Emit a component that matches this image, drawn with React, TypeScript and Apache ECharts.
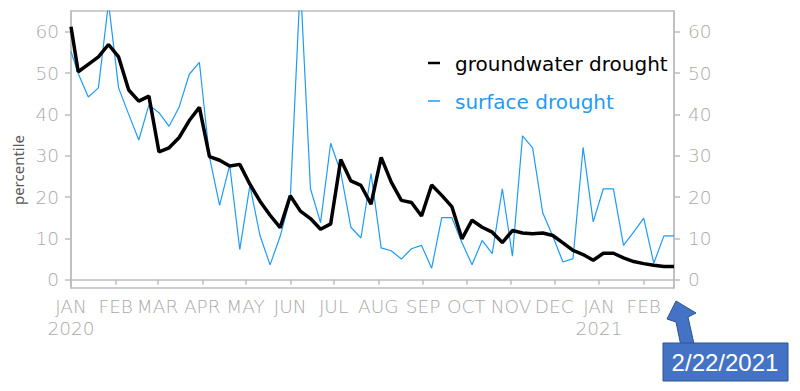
import React, { useEffect, useRef } from "react";
import * as echarts from "echarts";

// weekly observation dates (x positions)
const weekDates = [
  "2020-01-01", "2020-01-06", "2020-01-13", "2020-01-20", "2020-01-27",
  "2020-02-03", "2020-02-10", "2020-02-17", "2020-02-24",
  "2020-03-02", "2020-03-09", "2020-03-16", "2020-03-23", "2020-03-30",
  "2020-04-06", "2020-04-13", "2020-04-20", "2020-04-27",
  "2020-05-04", "2020-05-11", "2020-05-18", "2020-05-25",
  "2020-06-01", "2020-06-08", "2020-06-15", "2020-06-22", "2020-06-29",
  "2020-07-06", "2020-07-13", "2020-07-20", "2020-07-27",
  "2020-08-03", "2020-08-10", "2020-08-17", "2020-08-24", "2020-08-31",
  "2020-09-07", "2020-09-14", "2020-09-21", "2020-09-28",
  "2020-10-05", "2020-10-12", "2020-10-19", "2020-10-26",
  "2020-11-02", "2020-11-09", "2020-11-16", "2020-11-23", "2020-11-30",
  "2020-12-07", "2020-12-14", "2020-12-21", "2020-12-28",
  "2021-01-04", "2021-01-11", "2021-01-18", "2021-01-25",
  "2021-02-01", "2021-02-08", "2021-02-15", "2021-02-22",
];

const groundwater = [
  61.2, 50.3, 52.1, 53.9, 56.9, 53.9, 45.9, 43.2, 44.4, 30.9,
  31.9, 34.4, 38.5, 41.7, 29.8, 28.9, 27.5, 27.9, 23.1, 19.0,
  15.6, 12.6, 20.3, 16.6, 14.8, 12.2, 13.5, 29.1, 23.9, 22.8,
  18.3, 29.6, 23.6, 19.2, 18.7, 15.4, 22.9, 20.4, 17.7, 9.9,
  14.4, 12.7, 11.5, 9.0, 11.9, 11.3, 11.1, 11.3, 10.7, 8.9,
  7.1, 6.1, 4.7, 6.4, 6.4, 5.3, 4.4, 3.9, 3.5, 3.2, 3.2,
];

const surface = [
  55.2, 49.9, 44.2, 46.4, 67, 46.4, 40, 33.8, 42.3, 40.4,
  37.1, 41.8, 49.7, 52.6, 29.7, 18, 27.7, 7.3, 22.8, 10.7,
  3.6, 10.5, 19.6, 72, 22, 13.8, 33, 26, 12.7, 10.1,
  25.7, 7.7, 7, 5, 7.5, 8.3, 2.8, 15, 15, 9,
  3.6, 9.5, 6.3, 22, 5.7, 34.8, 31.9, 16.2, 10.5, 4.3,
  5.1, 32, 14, 22, 22, 8.3, 11.5, 14.9, 4, 10.6, 10.6,
];

const monthStarts = [
  "2020-01-01", "2020-02-01", "2020-03-01", "2020-04-01", "2020-05-01",
  "2020-06-01", "2020-07-01", "2020-08-01", "2020-09-01", "2020-10-01",
  "2020-11-01", "2020-12-01", "2021-01-01", "2021-02-01",
];
const monthLabels = [
  "JAN\n2020", "FEB", "MAR", "APR", "MAY", "JUN", "JUL", "AUG", "SEP",
  "OCT", "NOV", "DEC", "JAN\n2021", "FEB",
];
const yTicks = [0, 10, 20, 30, 40, 50, 60];
const axisStart = "2020-01-01";
const axisEnd = "2021-02-22";
const seriesNames = ["groundwater drought", "surface drought"];
const annotation = "2/22/2021";

const dayOf = (s: string) => {
  const [y, m, d] = s.split("-").map(Number);
  const [y0, m0, d0] = axisStart.split("-").map(Number);
  return Math.round((Date.UTC(y, m - 1, d) - Date.UTC(y0, m0 - 1, d0)) / 86400000);
};

const GREY = "#a9a9a9";
const AXIS = "#bdbdbd";
const BLUE = "#1e9bf5";
const LABEL_FONT = "'DejaVu Sans', sans-serif";

export default function App() {
  const ref = useRef<HTMLDivElement>(null);
  useEffect(() => {
    if (!ref.current) return;
    const chart = echarts.init(ref.current, null, { renderer: "svg" });
    const monthDays = monthStarts.map(dayOf);
    const gwData = weekDates.map((d, i) => [dayOf(d), groundwater[i]]);
    const sfData = weekDates.map((d, i) => [dayOf(d), surface[i]]);

    const yAxisBase = (pos: "left" | "right", margin: number) => ({
      type: "value",
      position: pos,
      min: -2,
      max: 65,
      splitLine: { show: false },
      axisLine: { show: true, lineStyle: { color: AXIS, width: 1.5 } },
      axisTick: { show: true, customValues: yTicks, length: 6, lineStyle: { color: AXIS, width: 1.5 } },
      axisLabel: {
        customValues: yTicks,
        color: GREY,
        fontSize: 18.5,
        fontFamily: LABEL_FONT,
        fontWeight: 200,
        margin,
      },
    });

    chart.setOption({
      animation: false,
      backgroundColor: "#ffffff",
      grid: {
        left: 71,
        right: 126,
        top: 11,
        bottom: 103,
        show: true,
        borderColor: AXIS,
        borderWidth: 1.5,
      },
      xAxis: {
        type: "value",
        min: 0,
        max: dayOf(axisEnd),
        splitLine: { show: false },
        axisLine: { show: true, lineStyle: { color: AXIS, width: 1.5 } },
        axisTick: { show: true, customValues: monthDays, length: 5, lineStyle: { color: AXIS, width: 1.5 } },
        axisLabel: {
          customValues: monthDays,
          showMinLabel: true,
          showMaxLabel: true,
          color: GREY,
          fontSize: 18.5,
          fontFamily: LABEL_FONT,
          fontWeight: 200,
          lineHeight: 22,
          margin: 7,
          formatter: (v: number) => {
            const i = monthDays.indexOf(Math.round(v));
            return i >= 0 ? monthLabels[i] : "";
          },
        },
      },
      yAxis: [yAxisBase("left", 12), yAxisBase("right", 14)],
      series: [
        {
          name: seriesNames[1],
          type: "line",
          data: sfData,
          showSymbol: false,
          symbol: "none",
          lineStyle: { color: BLUE, width: 1.2 },
          itemStyle: { color: BLUE },
          z: 2,
        },
        {
          name: seriesNames[0],
          type: "line",
          data: gwData,
          showSymbol: false,
          symbol: "none",
          lineStyle: { color: "#000000", width: 3.5 },
          itemStyle: { color: "#000000" },
          z: 3,
        },
      ],
      graphic: [
        {
          type: "text",
          x: 18,
          y: 170,
          rotation: Math.PI / 2,
          style: {
            text: "percentile",
            fill: "#595959",
            fontSize: 15,
            fontFamily: "'Noto Sans', sans-serif",
            align: "center",
            verticalAlign: "middle",
          },
        },
        {
          type: "line",
          shape: { x1: 428, y1: 63, x2: 440, y2: 63 },
          style: { stroke: "#000", lineWidth: 2.5 },
        },
        {
          type: "text",
          x: 455,
          y: 64,
          style: {
            text: seriesNames[0],
            fill: "#000",
            fontSize: 20,
            fontFamily: LABEL_FONT,
            verticalAlign: "middle",
          },
        },
        {
          type: "line",
          shape: { x1: 428, y1: 101, x2: 440, y2: 101 },
          style: { stroke: BLUE, lineWidth: 1.5 },
        },
        {
          type: "text",
          x: 455,
          y: 102,
          style: {
            text: seriesNames[1],
            fill: BLUE,
            fontSize: 20,
            fontFamily: LABEL_FONT,
            verticalAlign: "middle",
          },
        },
        {
          type: "polygon",
          shape: {
            points: [
              [676, 301], [696, 313], [688, 317], [694, 344],
              [681, 346], [676, 322], [667, 319],
            ],
          },
          style: { fill: "#4472c4", stroke: "#2f528f", lineWidth: 1 },
        },
        {
          type: "rect",
          shape: { x: 663, y: 343, width: 125, height: 38 },
          style: { fill: "#4472c4", stroke: "#2f528f", lineWidth: 1 },
        },
        {
          type: "text",
          x: 725,
          y: 362,
          style: {
            text: annotation,
            fill: "#ffffff",
            fontSize: 24,
            fontFamily: "'Liberation Sans', 'Noto Sans', sans-serif",
            align: "center",
            verticalAlign: "middle",
          },
        },
      ],
    });
    return () => chart.dispose();
  }, []);

  return (
    <div
      ref={ref}
      style={{ position: "fixed", left: 0, top: 0, width: 800, height: 391 }}
    />
  );
}
